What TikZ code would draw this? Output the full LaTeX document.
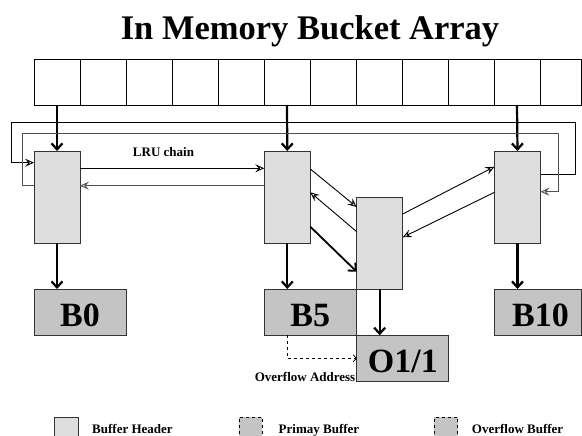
\documentclass[tikz,border=0pt]{standalone}
\usepackage{fontspec}
\setmainfont{Liberation Serif}
\usetikzlibrary{arrows.meta,positioning,calc}
\definecolor{hdrfill}{RGB}{222,222,222}
\definecolor{bktfill}{RGB}{196,196,196}
\definecolor{loopgray}{RGB}{80,80,80}
\tikzset{
  x=1pt, y=-1pt,
  cellbox/.style={draw=black, line width=0.9pt, fill=white, minimum width=46pt, minimum height=46pt, inner sep=0pt, outer sep=0pt},
  hdrbox/.style={draw=black!80, line width=0.9pt, fill=hdrfill, minimum width=46pt, minimum height=92pt, inner sep=0pt, outer sep=0pt},
  bktbox/.style={draw=black!80, line width=0.9pt, fill=bktfill, minimum width=92pt, minimum height=46pt, inner sep=0pt, outer sep=0pt,
     font=\fontsize{34}{34}\selectfont\bfseries, text height=29pt, text depth=0pt},
  thickarr/.style={line width=2.2pt, -{Straight Barb[length=6pt,width=11pt]}},
  thinarr/.style={line width=0.9pt, -{Stealth[open,length=9pt,width=8pt,inset=3.5pt]}},
  small/.style={font=\fontsize{13}{13}\selectfont\bfseries, inner sep=0pt},
}
\begin{document}
\begin{tikzpicture}
\useasboundingbox (0,0) rectangle (582,436);
% title
\node[anchor=base, font=\fontsize{34.5}{34.5}\selectfont\bfseries, inner sep=0pt] (title) at (310,40) {In Memory Bucket Array};
% array cells
\foreach \k in {0,...,10} {
  \node[cellbox] (cell\k) at ({57+46*\k},82) {};
}
\node[cellbox, minimum width=41.5pt] (cell11) at (560.75,82) {};
% headers
\node[hdrbox] (h0) at (57,197) {};
\node[hdrbox] (h5) at (287.3,197) {};
\node[hdrbox] (h10) at (517.5,197) {};
\node[hdrbox] (ho) at (379.7,243) {};
% buckets
\node[bktbox] (b0) at (80,312) {B0};
\node[bktbox] (b5) at (310.3,312) {B5};
\node[bktbox, minimum width=87pt] (b10) at (538,312) {\hspace*{5pt}B10};
\node[bktbox] (o11) at (402.8,358.3) {O1/1};
% helper coordinates
\coordinate (y1623) at (0,162.7);
\coordinate (y1683) at (0,168.3);
\coordinate (y1690) at (0,169);
\coordinate (y1667) at (0,166.7);
\coordinate (y1743) at (0,174.3);
\coordinate (y1857) at (0,185.7);
\coordinate (y1917) at (0,191.7);
\coordinate (y1923) at (0,192.3);
\coordinate (y2070) at (0,207);
\coordinate (y2140) at (0,214);
\coordinate (y2267) at (0,226.7);
\coordinate (y2317) at (0,231.7);
\coordinate (y2373) at (0,237.3);
\coordinate (y2717) at (0,271.7);
% array to headers
\draw[thickarr] (cell0.south) -- (h0.north);
\draw[thickarr] (cell5.south) -- (h5.north);
\draw[thickarr] (cell10.south) -- (h10.north);
% headers to buckets
\draw[thickarr] (h0.south) -- (h0.south |- b0.north);
\draw[thickarr] (h5.south) -- (h5.south |- b5.north);
\draw[thickarr] (h10.south) -- (h10.south |- b10.north);
\draw[thickarr] (ho.south) -- (ho.south |- o11.north);
% LRU loops
\draw[thinarr] (h10.east |- y1743) -| (575.5,122) -| (11,162.7) -- (h0.west |- y1623);
\draw[thinarr, draw=loopgray] (h0.west |- y1857) -| (22,133) -| (558.3,191.7) -- (h10.east |- y1917);
% LRU between B0 and B5
\draw[thinarr] (h0.east |- y1683) -- (h5.west |- y1683);
\draw[thinarr, draw=loopgray] (h5.west |- y1857) -- (h0.east |- y1857);
\node[small] (lru) at (163.5,152) {LRU chain};
% B5 header <-> overflow header
\draw[thinarr] (h5.east |- y1690) -- (ho.west |- y2070);
\draw[thinarr] (ho.west |- y2317) -- (h5.east |- y1923);
\draw[thickarr, line width=1.8pt] (h5.east |- y2267) -- (ho.west |- y2717);
% overflow header <-> B10 header
\draw[thinarr] (ho.east |- y2140) -- (h10.west |- y1667);
\draw[thinarr] (h10.west |- y1923) -- (ho.east |- y2373);
% overflow address
\draw[dashed, line width=0.8pt, -{Straight Barb[length=3pt,width=7pt]}] (h5.south |- b5.south) |- (o11.west);
\node[small, anchor=base east] (ovaddr) at (355.5,381.5) {Overflow Address};
% legend
\node[draw=black!80, line width=0.9pt, fill=hdrfill, minimum width=23.7pt, minimum height=24pt, inner sep=0pt, anchor=north west] (lh) at (54,416.7) {};
\node[draw=black, dashed, line width=0.9pt, fill=bktfill, minimum width=23pt, minimum height=24pt, inner sep=0pt, anchor=north west] (lp) at (239,416.7) {};
\node[draw=black, dashed, line width=0.9pt, fill=bktfill, minimum width=23.3pt, minimum height=24pt, inner sep=0pt, anchor=north west] (lo) at (434,416.7) {};
\node[small, anchor=base west] (lht) at (92,433) {Buffer Header};
\node[small, anchor=base west] (lpt) at (278.5,433) {Primay Buffer};
\node[small, anchor=base west] (lot) at (471.7,433) {Overflow Buffer};
\end{tikzpicture}
\end{document}
